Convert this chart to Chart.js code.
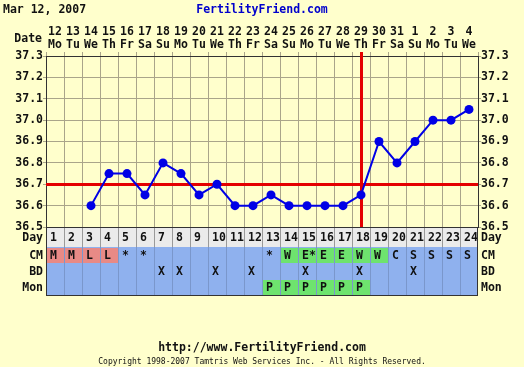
<!DOCTYPE html>
<html>
<head>
<meta charset="utf-8">
<script src="https://cdn.jsdelivr.net/npm/chart.js@4/dist/chart.umd.min.js"></script>
<style>
  html, body { margin: 0; padding: 0; background: #ffffcc; }
  canvas { display: block; }
</style>
</head>
<body>
<canvas id="chart" width="524" height="367"></canvas>
<script>
// cycle data
var days = ['1','2','3','4','5','6','7','8','9','10','11','12','13','14','15','16','17','18','19','20','21','22','23','24'];
var dates = ['12','13','14','15','16','17','18','19','20','21','22','23','24','25','26','27','28','29','30','31','1','2','3','4'];
var weekdays = ['Mo','Tu','We','Th','Fr','Sa','Su','Mo','Tu','We','Th','Fr','Sa','Su','Mo','Tu','We','Th','Fr','Sa','Su','Mo','Tu','We'];
var temps = [null, null, 36.6, 36.75, 36.75, 36.65, 36.8, 36.75, 36.65, 36.7, 36.6, 36.6,
             36.65, 36.6, 36.6, 36.6, 36.6, 36.65, 36.9, 36.8, 36.9, 37.0, 37.0, 37.05];
var cm  = ['M','M','L','L','*','*','','','','','','','*','W','E*','E','E','W','W','C','S','S','S','S'];
var bd  = ['','','','','','','X','X','','X','','X','','','X','','','X','','','X','','',''];
var mon = ['','','','','','','','','','','','','P','P','P','P','P','P','','','','','',''];
var coverline = 36.7;
var ovulationDay = 18;

var FONT = "'DejaVu Sans Mono', monospace";
var BG = '#ffffcc';
var GRID = '#aaa58a';
var EDGE = '#333333';

function cmColor(v) {
	if (v == 'M' || v == 'L') return '#e88a86';
	if (v == 'W' || v.charAt(0) == 'E') return '#6ee36e';
	return null;
}

var extras = {
	id: 'extras',
	beforeDatasetsDraw: function(chart) {
		var ctx = chart.ctx, a = chart.chartArea;
		var x = chart.scales.x, y = chart.scales.y;
		ctx.save();
		ctx.strokeStyle = '#e40000';
		ctx.lineWidth = 3;
		// coverline
		var cy = Math.round(y.getPixelForValue(coverline)) + 0.5;
		ctx.beginPath();
		ctx.moveTo(a.left, cy);
		ctx.lineTo(a.right, cy);
		ctx.stroke();
		// ovulation line
		var ox = Math.round(x.getPixelForValue(ovulationDay - 1)) + 0.5;
		ctx.beginPath();
		ctx.moveTo(ox, a.top - 4);
		ctx.lineTo(ox, a.bottom);
		ctx.stroke();
		ctx.restore();
	},
	afterDraw: function(chart) {
		var ctx = chart.ctx, a = chart.chartArea;
		var x = chart.scales.x;
		var w = (a.right - a.left) / days.length;
		var rows = [
			{ label: 'Day', top: a.bottom, h: 20, vals: days, bg: '#ebebeb', line: '#9a9a9a', color: function() { return null; } },
			{ label: 'CM', top: a.bottom + 20, h: 16, vals: cm, bg: '#8fb1ee', line: '#7a97cc', color: cmColor },
			{ label: 'BD', top: a.bottom + 36, h: 16, vals: bd, bg: '#8fb1ee', line: '#7a97cc', color: function() { return null; } },
			{ label: 'Mon', top: a.bottom + 52, h: 16, vals: mon, bg: '#8fb1ee', line: '#7a97cc', color: function(v) { return v ? '#6ee36e' : null; } }
		];
		ctx.save();
		ctx.font = 'bold 11.5px ' + FONT;
		ctx.textBaseline = 'middle';
		rows.forEach(function(r) {
			ctx.fillStyle = r.bg;
			ctx.fillRect(a.left, r.top, a.right - a.left, r.h);
			r.vals.forEach(function(v, i) {
				var cx = x.getPixelForValue(i);
				var left = Math.round(cx - w / 2);
				var c = r.color(v);
				if (c) {
					ctx.fillStyle = c;
					ctx.fillRect(left + 1, r.top + 1, w - 1, r.h - 1);
				}
				ctx.strokeStyle = r.line;
				ctx.lineWidth = 1;
				ctx.beginPath();
				ctx.moveTo(left + 0.5, r.top);
				ctx.lineTo(left + 0.5, r.top + r.h);
				ctx.stroke();
				if (v) {
					ctx.fillStyle = '#111';
					ctx.textAlign = 'left';
					ctx.fillText(v, left + 4, r.top + r.h / 2 + 1);
				}
			});
			ctx.strokeStyle = EDGE;
			ctx.beginPath();
			ctx.moveTo(a.left, r.top + r.h + 0.5);
			ctx.lineTo(a.right, r.top + r.h + 0.5);
			ctx.stroke();
			ctx.fillStyle = '#111';
			ctx.textAlign = 'right';
			ctx.fillText(r.label, a.left - 3, r.top + r.h / 2 + 1);
			ctx.textAlign = 'left';
			ctx.fillText(r.label, a.right + 3, r.top + r.h / 2 + 1);
		});
		ctx.strokeStyle = EDGE;
		ctx.strokeRect(a.left + 0.5, a.bottom + 0.5, a.right - a.left - 1, 68);

		// header and footer texts
		ctx.textBaseline = 'middle';
		ctx.fillStyle = '#111';
		ctx.textAlign = 'left';
		ctx.fillText('Mar 12, 2007', 3, 10);
		ctx.textAlign = 'right';
		ctx.fillText('Date', a.left - 4, 39);
		ctx.fillStyle = '#0000cc';
		ctx.textAlign = 'center';
		ctx.fillText('FertilityFriend.com', 262, 10);
		ctx.fillStyle = '#111';
		ctx.fillText('http://www.FertilityFriend.com', 262, 348);
		ctx.font = '8px ' + FONT;
		ctx.fillText('Copyright 1998-2007 Tamtris Web Services Inc. - All Rights Reserved.', 262, 362);
		ctx.restore();
	}
};

var tickFont = { family: FONT, size: 11.5, weight: 'bold', lineHeight: '13px' };

new Chart(document.getElementById('chart'), {
	type: 'line',
	data: {
		labels: days,
		datasets: [{
			data: temps,
			borderColor: '#0000e6',
			backgroundColor: '#0000e6',
			borderWidth: 2,
			pointRadius: 4.5,
			pointBorderWidth: 0,
			tension: 0
		}]
	},
	options: {
		responsive: false,
		animation: false,
		events: [],
		layout: { padding: 0 },
		plugins: { legend: { display: false }, tooltip: { enabled: false } },
		scales: {
			x: {
				type: 'category',
				position: 'bottom',
				offset: true,
				grid: { offset: true, color: GRID, drawTicks: false },
				border: { color: EDGE },
				ticks: { display: false },
				afterFit: function(s) { s.height = 140; }
			},
			xTop: {
				type: 'category',
				position: 'top',
				labels: dates.map(function(d, i) { return [d, weekdays[i]]; }),
				offset: true,
				grid: { offset: true, color: GRID, drawOnChartArea: false, tickLength: 4 },
				border: { color: EDGE },
				ticks: { color: '#111', font: tickFont, padding: 0, autoSkip: false, maxRotation: 0 },
				afterFit: function(s) { s.height = 56; }
			},
			y: {
				position: 'left',
				min: 36.5,
				max: 37.3,
				grid: { color: GRID, tickLength: 3 },
				border: { color: EDGE },
				ticks: { stepSize: 0.1, color: '#111', font: tickFont, padding: 0,
					callback: function(v) { return Number(v).toFixed(1); } },
				afterFit: function(s) { s.width = 46; }
			},
			yRight: {
				position: 'right',
				min: 36.5,
				max: 37.3,
				grid: { color: GRID, drawOnChartArea: false, tickLength: 3 },
				border: { color: EDGE },
				ticks: { stepSize: 0.1, color: '#111', font: tickFont, padding: 0,
					callback: function(v) { return Number(v).toFixed(1); } },
				afterFit: function(s) { s.width = 46; }
			}
		}
	},
	plugins: [extras]
});
</script>
</body>
</html>
